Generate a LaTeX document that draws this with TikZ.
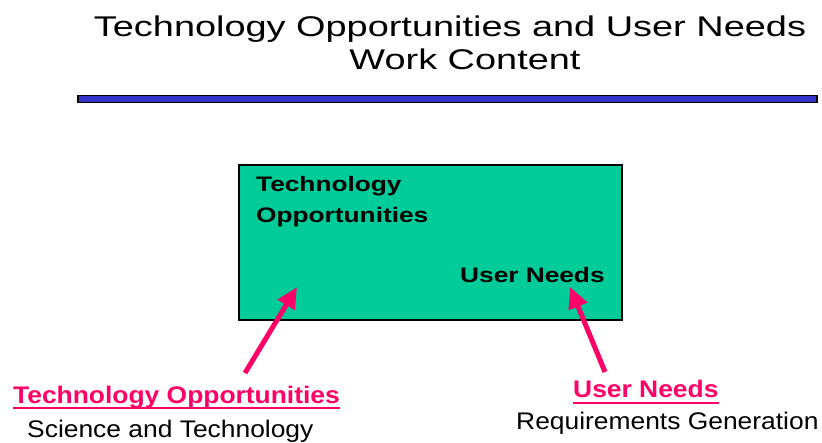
\documentclass[tikz,border=0pt]{standalone}
\usepackage{fontspec}
\setmainfont{Liberation Sans}
\newfontfamily\titlefont[FakeStretch=1.33]{Liberation Sans}
\newfontfamily\boxfont[FakeStretch=1.25]{Liberation Sans}
\newfontfamily\labelfont[FakeStretch=1.1]{Liberation Sans}
\usetikzlibrary{arrows.meta}
\definecolor{boxgreen}{HTML}{00CC99}
\definecolor{arrowpink}{HTML}{FF0066}
\definecolor{ruleblue}{HTML}{3333CC}

\begin{document}
\begin{tikzpicture}[x=1pt, y=-1pt,
  titletext/.style={inner sep=0, anchor=base, font=\titlefont\fontsize{28.5}{30}\selectfont},
  boxtext/.style={inner sep=0, anchor=base west, font=\boxfont\bfseries\fontsize{21}{23}\selectfont},
  pinklabel/.style={inner sep=0, anchor=base west, text=arrowpink, font=\labelfont\bfseries\fontsize{24}{26}\selectfont},
  sublabel/.style={inner sep=0, anchor=base west, font=\labelfont\fontsize{24}{26}\selectfont},
  pinkarrow/.style={draw=arrowpink, line width=5pt, -{Triangle[length=21pt, width=19pt]}}]
  \useasboundingbox (0,0) rectangle (822,443);

  % Title
  \node[titletext] (title1) at (450,37) {Technology Opportunities and User Needs};
  \node[titletext] (title2) at (465,70) {Work Content};
  \draw[line width=1.5pt, fill=ruleblue] (78,95.5) rectangle (817,102.5);

  % Work content box
  \draw[line width=1.5pt, fill=boxgreen] (239,165) rectangle (622,320);
  \node[boxtext] (boxtech) at (256,192) {Technology};
  \node[boxtext] (boxopp) at (256,223) {Opportunities};
  \node[boxtext] (boxuser) at (460,283) {User Needs};
  \coordinate (techtip) at (297,287);
  \coordinate (usertip) at (570,287);

  % Labels below
  \node[pinklabel] (techlab) at (13,403) {Technology Opportunities};
  \node[sublabel] (techsub) at (27,438) {Science and Technology};
  \node[pinklabel] (userlab) at (573,398) {User Needs};
  \node[sublabel] (usersub) at (516,430) {Requirements Generation};
  \draw[arrowpink, line width=2pt] ([yshift=-5pt]techlab.base west) -- ([yshift=-5pt]techlab.base east);
  \draw[arrowpink, line width=2pt] ([yshift=-5pt]userlab.base west) -- ([yshift=-5pt]userlab.base east);

  % Arrows
  \coordinate (techtail) at (245,373);
  \coordinate (usertail) at (605,372);
  \draw[pinkarrow] (techtail) -- (techtip);
  \draw[pinkarrow] (usertail) -- (usertip);
\end{tikzpicture}
\end{document}
